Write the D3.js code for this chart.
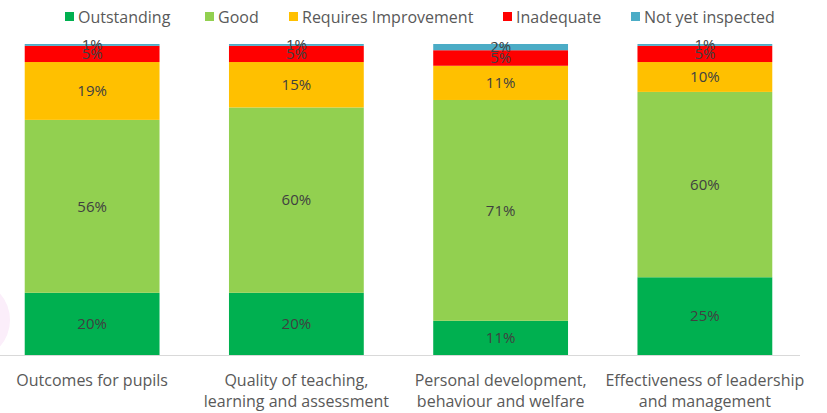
<!DOCTYPE html>
<html>
<head>
<meta charset="utf-8">
<script src="https://cdn.jsdelivr.net/npm/d3@7"></script>
<style>
  body { margin: 0; background: #fff; }
  svg { display: block; font-family: "Open Sans", sans-serif; }
</style>
</head>
<body>
<div id="chart"></div>
<script>
// data (shares in %, labels are shown rounded)
var categories = [
  ["Outcomes for pupils"],
  ["Quality of teaching,", "learning and assessment"],
  ["Personal development,", "behaviour and welfare"],
  ["Effectiveness of leadership", "and management"]
];
var seriesNames = ["Outstanding", "Good", "Requires Improvement", "Inadequate", "Not yet inspected"];
var outstanding = [20, 20, 11, 25];
var good = [55.6, 59.6, 71, 59.6];
var requiresImprovement = [18.6, 14.6, 11, 9.6];
var inadequate = [5.2, 5.2, 5, 5.2];
var notYetInspected = [0.6, 0.6, 2, 0.6];
var colors = ["#00B050", "#92D050", "#FFC000", "#FF0000", "#4BACC6"];

function drawChart() {
  var width = 827, height = 413;
  var svg = d3.select('#chart').append('svg')
    .attr('width', width).attr('height', height);

  // faint decoration at left edge
  svg.append('ellipse')
    .attr('cx', -25).attr('cy', 320).attr('rx', 35).attr('ry', 38)
    .attr('fill', '#fbeefa');

  var rows = categories.map(function(c, i) {
    return { key: i, Outstanding: outstanding[i], Good: good[i],
      "Requires Improvement": requiresImprovement[i], Inadequate: inadequate[i],
      "Not yet inspected": notYetInspected[i] };
  });
  var stack = d3.stack().keys(seriesNames)(rows);
  var fmt = d3.format(".0f");

  var x = d3.scaleBand().domain(d3.range(categories.length))
    .range([-10, 807]).paddingInner(0.34).paddingOuter(0.17);
  var y = d3.scaleLinear().domain([0, 100]).range([355, 44]);

  // baseline
  svg.append('line').attr('x1', 0).attr('x2', 800)
    .attr('y1', y(0) + 0.5).attr('y2', y(0) + 0.5)
    .attr('stroke', '#d9d9d9');

  var layers = svg.selectAll('.layer').data(stack).enter()
    .append('g').attr('class', 'layer')
    .attr('fill', function(d, i) { return colors[i]; });

  layers.selectAll('rect').data(function(d) { return d; }).enter()
    .append('rect')
    .attr('x', function(d, i) { return x(i); })
    .attr('width', x.bandwidth())
    .attr('y', function(d) { return y(d[1]); })
    .attr('height', function(d) { return y(d[0]) - y(d[1]); });

  layers.selectAll('text').data(function(d) { return d; }).enter()
    .append('text')
    .attr('x', function(d, i) { return x(i) + x.bandwidth() / 2; })
    .attr('y', function(d) { return (y(d[0]) + y(d[1])) / 2; })
    .attr('dy', '0.35em')
    .attr('text-anchor', 'middle')
    .attr('fill', '#404040')
    .attr('font-size', 15)
    .text(function(d) { return fmt(d[1] - d[0]) + '%'; });

  // category labels
  var cat = svg.selectAll('.cat').data(categories).enter()
    .append('text').attr('class', 'cat')
    .attr('text-anchor', 'middle')
    .attr('fill', '#595959')
    .attr('font-size', 16)
    .attr('x', function(d, i) { return x(i) + x.bandwidth() / 2; })
    .attr('y', 386);
  cat.selectAll('tspan').data(function(d) { return d; }).enter()
    .append('tspan')
    .attr('x', function() { return d3.select(this.parentNode).attr('x'); })
    .attr('dy', function(d, j) { return j === 0 ? 0 : 21; })
    .text(function(d) { return d; });

  // legend
  var legendX = [65, 205, 289, 503, 631];
  var leg = svg.selectAll('.leg').data(seriesNames).enter()
    .append('g').attr('class', 'leg')
    .attr('transform', function(d, i) { return 'translate(' + legendX[i] + ',17)'; });
  leg.append('rect').attr('x', 0).attr('y', -5).attr('width', 9).attr('height', 9)
    .attr('fill', function(d, i) { return colors[i]; });
  leg.append('text').attr('x', 13).attr('dy', '0.35em')
    .attr('fill', '#595959').attr('font-size', 16)
    .text(function(d) { return d; });
}

drawChart();
</script>
</body>
</html>
